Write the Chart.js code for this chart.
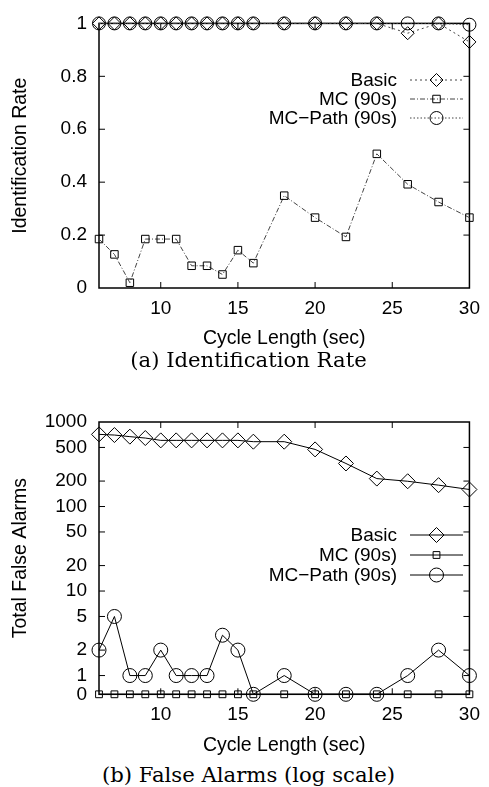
<!DOCTYPE html>
<html><head><meta charset="utf-8">
<script src="https://cdn.jsdelivr.net/npm/chart.js@4.4.0/dist/chart.umd.min.js"></script>
<style>
html,body{margin:0;padding:0;background:#fff;width:489px;height:787px;overflow:hidden;position:relative;}
canvas{position:absolute;left:0;}
#c1{top:0;}
#c2{top:380px;}
.cap{position:absolute;left:4px;width:489px;text-align:center;font-family:"DejaVu Serif",serif;color:#000;white-space:nowrap;line-height:24px;height:24px;}
#capA{top:348px;}
#capB{top:763px;}
</style></head>
<body>
<canvas id="c1" width="489" height="350"></canvas>
<canvas id="c2" width="489" height="377"></canvas>
<div class="cap" id="capA">(a) Identification Rate</div>
<div class="cap" id="capB">(b) False Alarms (log scale)</div>
<script>
// ---- data ----
const cycleLengths = [6,7,8,9,10,11,12,13,14,15,16,18,20,22,24,26,28,30];
const seriesNames = ['Basic','MC (90s)','MC\u2212Path (90s)'];
const xTicks = [10,15,20,25,30];

const idBasic  = [1,1,1,1,1,1,1,1,1,1,1,1,1,1,1,0.963,1,0.93];
const idMC     = [0.185,0.127,0.02,0.185,0.185,0.185,0.084,0.084,0.051,0.143,0.094,0.349,0.266,0.193,0.507,0.392,0.325,0.266];
const idMCPath = [1,1,1,1,1,1,1,1,1,1,1,1,1,1,1,1,1,0.995];
const idYTicks = [0,0.2,0.4,0.6,0.8,1];

const faBasic  = [714,701,671,646,606,606,606,606,606,606,585,585,474,323,214,199,179,159];
const faMC     = [0,0,0,0,0,0,0,0,0,0,0,0,0,0,0,0,0,0];
const faMCPath = [2,5,1,1,2,1,1,1,3,2,0,1,0,0,0,1,2,1];
const faYTicks = [0,1,2,5,10,20,50,100,200,500,1000];
const ZERO_POS = 0.6; // where "0" sits on the log axis

// ---- helpers ----
const SANS = '"Liberation Sans", Arial, sans-serif';
const pts = (ys, map) => cycleLengths.map((x,i)=>({x, y: map ? map(ys[i]) : ys[i]}));
const logMap = v => v === 0 ? ZERO_POS : v;

function drawMarker(ctx, style, r, x, y) {
  ctx.beginPath();
  if (style === 'circle') ctx.arc(x, y, r, 0, 2*Math.PI);
  else if (style === 'rect') { const h = r*Math.SQRT1_2; ctx.rect(x-h, y-h, 2*h, 2*h); }
  else { ctx.moveTo(x-r, y); ctx.lineTo(x, y-r); ctx.lineTo(x+r, y); ctx.lineTo(x, y+r); ctx.closePath(); }
  ctx.stroke();
}

const framePlugin = {
  id: 'frame',
  beforeDatasetsDraw(chart) {
    const {ctx, chartArea: a, scales} = chart;
    ctx.save();
    ctx.strokeStyle = '#000';
    ctx.lineWidth = 1;
    const tl = 6;
    ctx.beginPath();
    scales.y.ticks.forEach(t => {
      const p = scales.y.getPixelForValue(t.value);
      if (Math.abs(p - a.top) < 1 || Math.abs(p - a.bottom) < 1) return;
      ctx.moveTo(a.left, p); ctx.lineTo(a.left + tl, p);
      ctx.moveTo(a.right, p); ctx.lineTo(a.right - tl, p);
    });
    scales.x.ticks.forEach(t => {
      const p = scales.x.getPixelForValue(t.value);
      if (Math.abs(p - a.left) < 1 || Math.abs(p - a.right) < 1) return;
      ctx.moveTo(p, a.bottom); ctx.lineTo(p, a.bottom - tl);
      ctx.moveTo(p, a.top); ctx.lineTo(p, a.top + tl);
    });
    ctx.stroke();
    ctx.lineWidth = 1.5;
    ctx.strokeRect(a.left, a.top, a.right - a.left, a.bottom - a.top);
    ctx.restore();
  },
  afterDraw(chart, args, opts) {
    const {ctx} = chart;
    ctx.save();
    ctx.font = '19px ' + SANS;
    ctx.textAlign = 'right';
    ctx.textBaseline = 'middle';
    chart.data.datasets.forEach((ds, i) => {
      const y = opts.rows[i];
      ctx.fillStyle = '#000';
      ctx.fillText(ds.label, opts.textRight, y + 1);
      ctx.strokeStyle = ds.borderColor;
      ctx.lineWidth = ds.borderWidth;
      ctx.setLineDash(ds.borderDash || []);
      ctx.beginPath(); ctx.moveTo(opts.x0, y); ctx.lineTo(opts.x1, y); ctx.stroke();
      ctx.setLineDash([]);
      ctx.strokeStyle = '#000';
      ctx.lineWidth = 1;
      drawMarker(ctx, ds.pointStyle, ds.pointRadius, (opts.x0 + opts.x1)/2, y);
    });
    ctx.restore();
  }
};

function ds(label, data, style, r, dash, color) {
  return {
    label, data, pointStyle: style, pointRadius: r, pointHoverRadius: r,
    pointBorderColor: '#000', pointBackgroundColor: 'rgba(0,0,0,0)', pointBorderWidth: 1,
    borderColor: color, borderWidth: 1, borderDash: dash, fill: false, tension: 0, clip: false
  };
}

function makeOptions(yScale, legendRows, padTop, xHeight) {
  return {
    responsive: false, animation: false, events: [],
    layout: {padding: {left: 9, right: 15, top: padTop, bottom: 0}},
    plugins: {
      legend: {display: false}, tooltip: {enabled: false},
      frame: {rows: legendRows, textRight: 397, x0: 410, x1: 463}
    },
    scales: {
      x: {
        type: 'linear', min: 6, max: 30,
        afterBuildTicks: s => { s.ticks = xTicks.map(v => ({value: v})); },
        afterFit: s => { s.height = xHeight; },
        grid: {display: false, drawTicks: false}, border: {display: false},
        ticks: {padding: 9, color: '#000', font: {family: SANS, size: 19}, maxRotation: 0, autoSkip: false},
        title: {display: true, text: 'Cycle Length (sec)', color: '#000', font: {family: SANS, size: 19.5}, padding: 0}
      },
      y: yScale
    }
  };
}

// ---- chart (a) ----
new Chart(document.getElementById('c1'), {
  type: 'line',
  data: {datasets: [
    ds(seriesNames[0], pts(idBasic), 'rectRot', 6.5, [2,3], '#444'),
    ds(seriesNames[1], pts(idMC), 'rect', 5.3, [5,2,1,2], '#444'),
    ds(seriesNames[2], pts(idMCPath), 'circle', 6.5, [1.5,2], '#444')
  ]},
  options: makeOptions({
    type: 'linear', min: 0, max: 1,
    afterBuildTicks: s => { s.ticks = idYTicks.map(v => ({value: v})); },
    afterFit: s => { s.width = 90; },
    grid: {display: false, drawTicks: false}, border: {display: false},
    ticks: {padding: 12, color: '#000', font: {family: SANS, size: 19}, callback: v => String(v)},
    title: {display: true, text: 'Identification Rate', color: '#000', font: {family: SANS, size: 19.5}, padding: 0}
  }, [80, 99, 118], 14, 62),
  plugins: [framePlugin]
});

// ---- chart (b) ----
new Chart(document.getElementById('c2'), {
  type: 'line',
  data: {datasets: [
    ds(seriesNames[0], pts(faBasic, logMap), 'rectRot', 7.5, [], '#000'),
    ds(seriesNames[1], pts(faMC, logMap), 'rect', 4.8, [], '#000'),
    ds(seriesNames[2], pts(faMCPath, logMap), 'circle', 7, [], '#000')
  ]},
  options: makeOptions({
    type: 'logarithmic', min: ZERO_POS, max: 1000,
    afterBuildTicks: s => { s.ticks = faYTicks.map(v => ({value: logMap(v)})); },
    afterFit: s => { s.width = 90; },
    grid: {display: false, drawTicks: false}, border: {display: false},
    ticks: {padding: 12, color: '#000', font: {family: SANS, size: 19}, callback: v => v === ZERO_POS ? '0' : String(v)},
    title: {display: true, text: 'Total False Alarms', color: '#000', font: {family: SANS, size: 19.5}, padding: 0}
  }, [155, 175, 195], 42, 62.7),
  plugins: [framePlugin]
});

// ---- fit caption sizes ----
(function(){
  const c = document.createElement('canvas').getContext('2d');
  c.font = '20px "DejaVu Serif"';
  const wA = c.measureText('(a) Identification Rate').width;
  const wB = c.measureText('(b) False Alarms (log scale)').width;
  const size = 20 * (239 + 291) / (wA + wB);
  document.querySelectorAll('.cap').forEach(e => e.style.fontSize = size.toFixed(2) + 'px');
})();
</script>
</body></html>
